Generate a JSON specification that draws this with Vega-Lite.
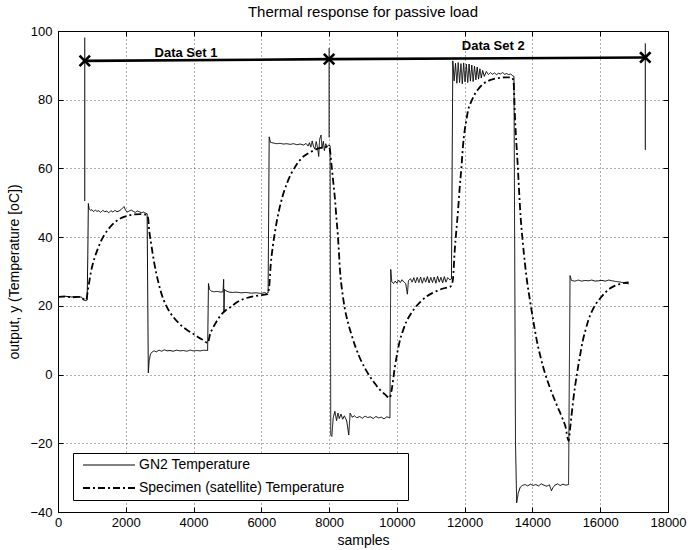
{
  "$schema": "https://vega.github.io/schema/vega-lite/v6.json",
  "width": 610,
  "height": 481,
  "autosize": "none",
  "padding": {"left": 58, "top": 31, "right": 32, "bottom": 38},
  "background": "white",
  "title": {"text": "Thermal response for passive load", "font": "Liberation Sans", "fontSize": 15, "fontWeight": "normal", "color": "black", "offset": 5, "anchor": "middle"},
  "datasets": {
    "gn2": [
      {"s": 0, "t": 22.7, "series": "GN2 Temperature"},
      {"s": 200, "t": 22.8, "series": "GN2 Temperature"},
      {"s": 400, "t": 22.6, "series": "GN2 Temperature"},
      {"s": 600, "t": 22.7, "series": "GN2 Temperature"},
      {"s": 700, "t": 22.5, "series": "GN2 Temperature"},
      {"s": 740, "t": 21.8, "series": "GN2 Temperature"},
      {"s": 800, "t": 21.5, "series": "GN2 Temperature"},
      {"s": 860, "t": 21.7, "series": "GN2 Temperature"},
      {"s": 880, "t": 35, "series": "GN2 Temperature"},
      {"s": 895, "t": 49.8, "series": "GN2 Temperature"},
      {"s": 920, "t": 48.2, "series": "GN2 Temperature"},
      {"s": 960, "t": 47.8, "series": "GN2 Temperature"},
      {"s": 1000, "t": 48.0, "series": "GN2 Temperature"},
      {"s": 1050, "t": 47.4, "series": "GN2 Temperature"},
      {"s": 1100, "t": 47.9, "series": "GN2 Temperature"},
      {"s": 1150, "t": 47.5, "series": "GN2 Temperature"},
      {"s": 1200, "t": 47.7, "series": "GN2 Temperature"},
      {"s": 1260, "t": 47.2, "series": "GN2 Temperature"},
      {"s": 1320, "t": 47.8, "series": "GN2 Temperature"},
      {"s": 1380, "t": 47.4, "series": "GN2 Temperature"},
      {"s": 1440, "t": 47.6, "series": "GN2 Temperature"},
      {"s": 1500, "t": 47.1, "series": "GN2 Temperature"},
      {"s": 1560, "t": 47.7, "series": "GN2 Temperature"},
      {"s": 1620, "t": 47.3, "series": "GN2 Temperature"},
      {"s": 1680, "t": 47.8, "series": "GN2 Temperature"},
      {"s": 1740, "t": 47.4, "series": "GN2 Temperature"},
      {"s": 1800, "t": 47.6, "series": "GN2 Temperature"},
      {"s": 1860, "t": 48.0, "series": "GN2 Temperature"},
      {"s": 1920, "t": 48.6, "series": "GN2 Temperature"},
      {"s": 1950, "t": 48.9, "series": "GN2 Temperature"},
      {"s": 1990, "t": 47.9, "series": "GN2 Temperature"},
      {"s": 2040, "t": 47.3, "series": "GN2 Temperature"},
      {"s": 2100, "t": 47.6, "series": "GN2 Temperature"},
      {"s": 2160, "t": 47.9, "series": "GN2 Temperature"},
      {"s": 2220, "t": 47.5, "series": "GN2 Temperature"},
      {"s": 2280, "t": 47.2, "series": "GN2 Temperature"},
      {"s": 2340, "t": 47.6, "series": "GN2 Temperature"},
      {"s": 2400, "t": 47.4, "series": "GN2 Temperature"},
      {"s": 2460, "t": 47.1, "series": "GN2 Temperature"},
      {"s": 2520, "t": 47.3, "series": "GN2 Temperature"},
      {"s": 2580, "t": 47.0, "series": "GN2 Temperature"},
      {"s": 2630, "t": 46.8, "series": "GN2 Temperature"},
      {"s": 2665, "t": 0.5, "series": "GN2 Temperature"},
      {"s": 2690, "t": 4.0, "series": "GN2 Temperature"},
      {"s": 2730, "t": 6.0, "series": "GN2 Temperature"},
      {"s": 2780, "t": 6.6, "series": "GN2 Temperature"},
      {"s": 2840, "t": 6.9, "series": "GN2 Temperature"},
      {"s": 2900, "t": 6.6, "series": "GN2 Temperature"},
      {"s": 2980, "t": 7.1, "series": "GN2 Temperature"},
      {"s": 3060, "t": 6.8, "series": "GN2 Temperature"},
      {"s": 3140, "t": 7.2, "series": "GN2 Temperature"},
      {"s": 3220, "t": 6.9, "series": "GN2 Temperature"},
      {"s": 3300, "t": 7.0, "series": "GN2 Temperature"},
      {"s": 3400, "t": 6.8, "series": "GN2 Temperature"},
      {"s": 3500, "t": 7.1, "series": "GN2 Temperature"},
      {"s": 3600, "t": 6.9, "series": "GN2 Temperature"},
      {"s": 3700, "t": 7.0, "series": "GN2 Temperature"},
      {"s": 3800, "t": 6.8, "series": "GN2 Temperature"},
      {"s": 3900, "t": 7.1, "series": "GN2 Temperature"},
      {"s": 4000, "t": 6.9, "series": "GN2 Temperature"},
      {"s": 4100, "t": 7.0, "series": "GN2 Temperature"},
      {"s": 4200, "t": 6.9, "series": "GN2 Temperature"},
      {"s": 4300, "t": 7.1, "series": "GN2 Temperature"},
      {"s": 4415, "t": 7.0, "series": "GN2 Temperature"},
      {"s": 4440, "t": 26.5, "series": "GN2 Temperature"},
      {"s": 4470, "t": 24.8, "series": "GN2 Temperature"},
      {"s": 4520, "t": 24.3, "series": "GN2 Temperature"},
      {"s": 4600, "t": 24.1, "series": "GN2 Temperature"},
      {"s": 4700, "t": 24.2, "series": "GN2 Temperature"},
      {"s": 4800, "t": 24.0, "series": "GN2 Temperature"},
      {"s": 4870, "t": 24.1, "series": "GN2 Temperature"},
      {"s": 4888, "t": 27.7, "series": "GN2 Temperature"},
      {"s": 4898, "t": 18.3, "series": "GN2 Temperature"},
      {"s": 4912, "t": 24.8, "series": "GN2 Temperature"},
      {"s": 4950, "t": 24.4, "series": "GN2 Temperature"},
      {"s": 5050, "t": 24.0, "series": "GN2 Temperature"},
      {"s": 5150, "t": 23.9, "series": "GN2 Temperature"},
      {"s": 5250, "t": 24.0, "series": "GN2 Temperature"},
      {"s": 5400, "t": 23.8, "series": "GN2 Temperature"},
      {"s": 5550, "t": 23.9, "series": "GN2 Temperature"},
      {"s": 5700, "t": 23.7, "series": "GN2 Temperature"},
      {"s": 5850, "t": 23.8, "series": "GN2 Temperature"},
      {"s": 6000, "t": 23.6, "series": "GN2 Temperature"},
      {"s": 6100, "t": 23.9, "series": "GN2 Temperature"},
      {"s": 6150, "t": 23.6, "series": "GN2 Temperature"},
      {"s": 6200, "t": 23.8, "series": "GN2 Temperature"},
      {"s": 6232, "t": 69.2, "series": "GN2 Temperature"},
      {"s": 6270, "t": 67.6, "series": "GN2 Temperature"},
      {"s": 6350, "t": 67.4, "series": "GN2 Temperature"},
      {"s": 6450, "t": 67.2, "series": "GN2 Temperature"},
      {"s": 6550, "t": 67.3, "series": "GN2 Temperature"},
      {"s": 6650, "t": 67.1, "series": "GN2 Temperature"},
      {"s": 6750, "t": 67.2, "series": "GN2 Temperature"},
      {"s": 6850, "t": 67.0, "series": "GN2 Temperature"},
      {"s": 6950, "t": 67.2, "series": "GN2 Temperature"},
      {"s": 7050, "t": 66.9, "series": "GN2 Temperature"},
      {"s": 7150, "t": 67.1, "series": "GN2 Temperature"},
      {"s": 7250, "t": 66.8, "series": "GN2 Temperature"},
      {"s": 7320, "t": 67.3, "series": "GN2 Temperature"},
      {"s": 7380, "t": 66.5, "series": "GN2 Temperature"},
      {"s": 7420, "t": 67.5, "series": "GN2 Temperature"},
      {"s": 7460, "t": 66.2, "series": "GN2 Temperature"},
      {"s": 7500, "t": 68.0, "series": "GN2 Temperature"},
      {"s": 7540, "t": 66.4, "series": "GN2 Temperature"},
      {"s": 7580, "t": 65.6, "series": "GN2 Temperature"},
      {"s": 7620, "t": 67.8, "series": "GN2 Temperature"},
      {"s": 7660, "t": 66.0, "series": "GN2 Temperature"},
      {"s": 7693, "t": 63.5, "series": "GN2 Temperature"},
      {"s": 7720, "t": 68.5, "series": "GN2 Temperature"},
      {"s": 7762, "t": 69.7, "series": "GN2 Temperature"},
      {"s": 7790, "t": 65.8, "series": "GN2 Temperature"},
      {"s": 7830, "t": 67.9, "series": "GN2 Temperature"},
      {"s": 7860, "t": 65.2, "series": "GN2 Temperature"},
      {"s": 7900, "t": 67.2, "series": "GN2 Temperature"},
      {"s": 7940, "t": 66.3, "series": "GN2 Temperature"},
      {"s": 7980, "t": 66.8, "series": "GN2 Temperature"},
      {"s": 8030, "t": 66.6, "series": "GN2 Temperature"},
      {"s": 8048, "t": -17.6, "series": "GN2 Temperature"},
      {"s": 8080, "t": -18.0, "series": "GN2 Temperature"},
      {"s": 8120, "t": -12.6, "series": "GN2 Temperature"},
      {"s": 8170, "t": -10.7, "series": "GN2 Temperature"},
      {"s": 8220, "t": -13.4, "series": "GN2 Temperature"},
      {"s": 8260, "t": -11.2, "series": "GN2 Temperature"},
      {"s": 8300, "t": -12.8, "series": "GN2 Temperature"},
      {"s": 8350, "t": -11.5, "series": "GN2 Temperature"},
      {"s": 8400, "t": -13.0, "series": "GN2 Temperature"},
      {"s": 8450, "t": -12.0, "series": "GN2 Temperature"},
      {"s": 8520, "t": -13.5, "series": "GN2 Temperature"},
      {"s": 8580, "t": -17.6, "series": "GN2 Temperature"},
      {"s": 8620, "t": -11.2, "series": "GN2 Temperature"},
      {"s": 8680, "t": -12.4, "series": "GN2 Temperature"},
      {"s": 8750, "t": -12.0, "series": "GN2 Temperature"},
      {"s": 8820, "t": -12.6, "series": "GN2 Temperature"},
      {"s": 8900, "t": -12.2, "series": "GN2 Temperature"},
      {"s": 8980, "t": -12.7, "series": "GN2 Temperature"},
      {"s": 9060, "t": -12.1, "series": "GN2 Temperature"},
      {"s": 9140, "t": -12.5, "series": "GN2 Temperature"},
      {"s": 9220, "t": -12.3, "series": "GN2 Temperature"},
      {"s": 9300, "t": -12.8, "series": "GN2 Temperature"},
      {"s": 9380, "t": -12.2, "series": "GN2 Temperature"},
      {"s": 9460, "t": -12.6, "series": "GN2 Temperature"},
      {"s": 9540, "t": -12.4, "series": "GN2 Temperature"},
      {"s": 9620, "t": -12.9, "series": "GN2 Temperature"},
      {"s": 9700, "t": -12.3, "series": "GN2 Temperature"},
      {"s": 9795, "t": -12.6, "series": "GN2 Temperature"},
      {"s": 9818, "t": 30.6, "series": "GN2 Temperature"},
      {"s": 9850, "t": 27.0, "series": "GN2 Temperature"},
      {"s": 9900, "t": 26.5, "series": "GN2 Temperature"},
      {"s": 9950, "t": 27.2, "series": "GN2 Temperature"},
      {"s": 10000, "t": 26.6, "series": "GN2 Temperature"},
      {"s": 10050, "t": 27.5, "series": "GN2 Temperature"},
      {"s": 10100, "t": 26.8, "series": "GN2 Temperature"},
      {"s": 10150, "t": 27.6, "series": "GN2 Temperature"},
      {"s": 10200, "t": 27.0, "series": "GN2 Temperature"},
      {"s": 10260, "t": 26.5, "series": "GN2 Temperature"},
      {"s": 10310, "t": 23.4, "series": "GN2 Temperature"},
      {"s": 10340, "t": 27.3, "series": "GN2 Temperature"},
      {"s": 10400, "t": 27.9, "series": "GN2 Temperature"},
      {"s": 10450, "t": 26.9, "series": "GN2 Temperature"},
      {"s": 10500, "t": 28.2, "series": "GN2 Temperature"},
      {"s": 10550, "t": 26.7, "series": "GN2 Temperature"},
      {"s": 10600, "t": 28.3, "series": "GN2 Temperature"},
      {"s": 10650, "t": 26.8, "series": "GN2 Temperature"},
      {"s": 10700, "t": 28.4, "series": "GN2 Temperature"},
      {"s": 10750, "t": 26.6, "series": "GN2 Temperature"},
      {"s": 10800, "t": 28.2, "series": "GN2 Temperature"},
      {"s": 10850, "t": 26.9, "series": "GN2 Temperature"},
      {"s": 10900, "t": 28.5, "series": "GN2 Temperature"},
      {"s": 10950, "t": 26.7, "series": "GN2 Temperature"},
      {"s": 11000, "t": 28.3, "series": "GN2 Temperature"},
      {"s": 11050, "t": 26.8, "series": "GN2 Temperature"},
      {"s": 11100, "t": 28.4, "series": "GN2 Temperature"},
      {"s": 11150, "t": 26.6, "series": "GN2 Temperature"},
      {"s": 11200, "t": 28.6, "series": "GN2 Temperature"},
      {"s": 11250, "t": 26.9, "series": "GN2 Temperature"},
      {"s": 11300, "t": 28.3, "series": "GN2 Temperature"},
      {"s": 11350, "t": 26.7, "series": "GN2 Temperature"},
      {"s": 11400, "t": 28.5, "series": "GN2 Temperature"},
      {"s": 11450, "t": 26.9, "series": "GN2 Temperature"},
      {"s": 11500, "t": 28.2, "series": "GN2 Temperature"},
      {"s": 11560, "t": 27.6, "series": "GN2 Temperature"},
      {"s": 11610, "t": 27.8, "series": "GN2 Temperature"},
      {"s": 11650, "t": 91.3, "series": "GN2 Temperature"},
      {"s": 11690, "t": 85.5, "series": "GN2 Temperature"},
      {"s": 11730, "t": 90.6, "series": "GN2 Temperature"},
      {"s": 11770, "t": 84.8, "series": "GN2 Temperature"},
      {"s": 11810, "t": 90.8, "series": "GN2 Temperature"},
      {"s": 11850, "t": 85.0, "series": "GN2 Temperature"},
      {"s": 11890, "t": 90.5, "series": "GN2 Temperature"},
      {"s": 11930, "t": 84.6, "series": "GN2 Temperature"},
      {"s": 11970, "t": 90.7, "series": "GN2 Temperature"},
      {"s": 12010, "t": 85.2, "series": "GN2 Temperature"},
      {"s": 12050, "t": 90.3, "series": "GN2 Temperature"},
      {"s": 12090, "t": 85.0, "series": "GN2 Temperature"},
      {"s": 12130, "t": 90.4, "series": "GN2 Temperature"},
      {"s": 12170, "t": 85.4, "series": "GN2 Temperature"},
      {"s": 12210, "t": 90.1, "series": "GN2 Temperature"},
      {"s": 12250, "t": 85.3, "series": "GN2 Temperature"},
      {"s": 12290, "t": 89.8, "series": "GN2 Temperature"},
      {"s": 12330, "t": 85.8, "series": "GN2 Temperature"},
      {"s": 12370, "t": 89.5, "series": "GN2 Temperature"},
      {"s": 12410, "t": 86.0, "series": "GN2 Temperature"},
      {"s": 12450, "t": 89.0, "series": "GN2 Temperature"},
      {"s": 12490, "t": 86.3, "series": "GN2 Temperature"},
      {"s": 12530, "t": 88.5, "series": "GN2 Temperature"},
      {"s": 12580, "t": 86.8, "series": "GN2 Temperature"},
      {"s": 12640, "t": 88.2, "series": "GN2 Temperature"},
      {"s": 12700, "t": 87.3, "series": "GN2 Temperature"},
      {"s": 12760, "t": 87.9, "series": "GN2 Temperature"},
      {"s": 12820, "t": 87.4, "series": "GN2 Temperature"},
      {"s": 12880, "t": 87.8, "series": "GN2 Temperature"},
      {"s": 12940, "t": 87.3, "series": "GN2 Temperature"},
      {"s": 13000, "t": 87.7, "series": "GN2 Temperature"},
      {"s": 13060, "t": 87.5, "series": "GN2 Temperature"},
      {"s": 13120, "t": 87.9, "series": "GN2 Temperature"},
      {"s": 13180, "t": 87.4, "series": "GN2 Temperature"},
      {"s": 13240, "t": 87.6, "series": "GN2 Temperature"},
      {"s": 13300, "t": 87.3, "series": "GN2 Temperature"},
      {"s": 13360, "t": 87.5, "series": "GN2 Temperature"},
      {"s": 13420, "t": 86.9, "series": "GN2 Temperature"},
      {"s": 13455, "t": 86.8, "series": "GN2 Temperature"},
      {"s": 13500, "t": -20, "series": "GN2 Temperature"},
      {"s": 13535, "t": -37.3, "series": "GN2 Temperature"},
      {"s": 13580, "t": -34.5, "series": "GN2 Temperature"},
      {"s": 13640, "t": -32.8, "series": "GN2 Temperature"},
      {"s": 13700, "t": -32.3, "series": "GN2 Temperature"},
      {"s": 13780, "t": -32.0, "series": "GN2 Temperature"},
      {"s": 13860, "t": -32.4, "series": "GN2 Temperature"},
      {"s": 13940, "t": -31.9, "series": "GN2 Temperature"},
      {"s": 14020, "t": -32.3, "series": "GN2 Temperature"},
      {"s": 14100, "t": -32.0, "series": "GN2 Temperature"},
      {"s": 14180, "t": -32.4, "series": "GN2 Temperature"},
      {"s": 14260, "t": -31.8, "series": "GN2 Temperature"},
      {"s": 14340, "t": -32.2, "series": "GN2 Temperature"},
      {"s": 14420, "t": -32.5, "series": "GN2 Temperature"},
      {"s": 14500, "t": -32.1, "series": "GN2 Temperature"},
      {"s": 14560, "t": -33.8, "series": "GN2 Temperature"},
      {"s": 14600, "t": -33.0, "series": "GN2 Temperature"},
      {"s": 14660, "t": -32.2, "series": "GN2 Temperature"},
      {"s": 14740, "t": -31.8, "series": "GN2 Temperature"},
      {"s": 14820, "t": -32.3, "series": "GN2 Temperature"},
      {"s": 14900, "t": -31.9, "series": "GN2 Temperature"},
      {"s": 14980, "t": -32.2, "series": "GN2 Temperature"},
      {"s": 15065, "t": -32.0, "series": "GN2 Temperature"},
      {"s": 15110, "t": 28.8, "series": "GN2 Temperature"},
      {"s": 15150, "t": 27.4, "series": "GN2 Temperature"},
      {"s": 15250, "t": 27.2, "series": "GN2 Temperature"},
      {"s": 15350, "t": 27.5, "series": "GN2 Temperature"},
      {"s": 15450, "t": 27.2, "series": "GN2 Temperature"},
      {"s": 15550, "t": 27.4, "series": "GN2 Temperature"},
      {"s": 15650, "t": 27.3, "series": "GN2 Temperature"},
      {"s": 15750, "t": 27.5, "series": "GN2 Temperature"},
      {"s": 15850, "t": 27.2, "series": "GN2 Temperature"},
      {"s": 15950, "t": 27.3, "series": "GN2 Temperature"},
      {"s": 16050, "t": 27.4, "series": "GN2 Temperature"},
      {"s": 16150, "t": 27.2, "series": "GN2 Temperature"},
      {"s": 16250, "t": 27.5, "series": "GN2 Temperature"},
      {"s": 16350, "t": 27.3, "series": "GN2 Temperature"},
      {"s": 16450, "t": 27.1, "series": "GN2 Temperature"},
      {"s": 16550, "t": 27.0, "series": "GN2 Temperature"},
      {"s": 16650, "t": 26.8, "series": "GN2 Temperature"},
      {"s": 16750, "t": 26.6, "series": "GN2 Temperature"},
      {"s": 16840, "t": 26.4, "series": "GN2 Temperature"}
    ],
    "spec": [
      {"s": 0, "t": 22.6, "series": "Specimen (satellite) Temperature"},
      {"s": 200, "t": 22.7, "series": "Specimen (satellite) Temperature"},
      {"s": 400, "t": 22.5, "series": "Specimen (satellite) Temperature"},
      {"s": 600, "t": 22.6, "series": "Specimen (satellite) Temperature"},
      {"s": 750, "t": 22.0, "series": "Specimen (satellite) Temperature"},
      {"s": 830, "t": 21.6, "series": "Specimen (satellite) Temperature"},
      {"s": 880, "t": 24.5, "series": "Specimen (satellite) Temperature"},
      {"s": 927, "t": 27.3, "series": "Specimen (satellite) Temperature"},
      {"s": 975, "t": 30.0, "series": "Specimen (satellite) Temperature"},
      {"s": 1024, "t": 32.1, "series": "Specimen (satellite) Temperature"},
      {"s": 1100, "t": 34.6, "series": "Specimen (satellite) Temperature"},
      {"s": 1171, "t": 36.5, "series": "Specimen (satellite) Temperature"},
      {"s": 1260, "t": 38.7, "series": "Specimen (satellite) Temperature"},
      {"s": 1366, "t": 40.6, "series": "Specimen (satellite) Temperature"},
      {"s": 1460, "t": 42.0, "series": "Specimen (satellite) Temperature"},
      {"s": 1561, "t": 43.2, "series": "Specimen (satellite) Temperature"},
      {"s": 1700, "t": 44.5, "series": "Specimen (satellite) Temperature"},
      {"s": 1854, "t": 45.5, "series": "Specimen (satellite) Temperature"},
      {"s": 2050, "t": 46.2, "series": "Specimen (satellite) Temperature"},
      {"s": 2244, "t": 46.6, "series": "Specimen (satellite) Temperature"},
      {"s": 2450, "t": 46.7, "series": "Specimen (satellite) Temperature"},
      {"s": 2620, "t": 46.5, "series": "Specimen (satellite) Temperature"},
      {"s": 2660, "t": 45.5, "series": "Specimen (satellite) Temperature"},
      {"s": 2683, "t": 42.8, "series": "Specimen (satellite) Temperature"},
      {"s": 2750, "t": 38.0, "series": "Specimen (satellite) Temperature"},
      {"s": 2829, "t": 33.1, "series": "Specimen (satellite) Temperature"},
      {"s": 2900, "t": 29.5, "series": "Specimen (satellite) Temperature"},
      {"s": 2976, "t": 26.3, "series": "Specimen (satellite) Temperature"},
      {"s": 3070, "t": 23.0, "series": "Specimen (satellite) Temperature"},
      {"s": 3171, "t": 20.5, "series": "Specimen (satellite) Temperature"},
      {"s": 3290, "t": 18.3, "series": "Specimen (satellite) Temperature"},
      {"s": 3415, "t": 16.6, "series": "Specimen (satellite) Temperature"},
      {"s": 3560, "t": 15.0, "series": "Specimen (satellite) Temperature"},
      {"s": 3707, "t": 13.7, "series": "Specimen (satellite) Temperature"},
      {"s": 3850, "t": 12.7, "series": "Specimen (satellite) Temperature"},
      {"s": 4000, "t": 11.8, "series": "Specimen (satellite) Temperature"},
      {"s": 4150, "t": 10.8, "series": "Specimen (satellite) Temperature"},
      {"s": 4293, "t": 10.0, "series": "Specimen (satellite) Temperature"},
      {"s": 4420, "t": 9.2, "series": "Specimen (satellite) Temperature"},
      {"s": 4488, "t": 11.8, "series": "Specimen (satellite) Temperature"},
      {"s": 4560, "t": 13.4, "series": "Specimen (satellite) Temperature"},
      {"s": 4634, "t": 14.7, "series": "Specimen (satellite) Temperature"},
      {"s": 4740, "t": 16.4, "series": "Specimen (satellite) Temperature"},
      {"s": 4849, "t": 17.8, "series": "Specimen (satellite) Temperature"},
      {"s": 4960, "t": 18.8, "series": "Specimen (satellite) Temperature"},
      {"s": 5073, "t": 19.5, "series": "Specimen (satellite) Temperature"},
      {"s": 5268, "t": 21.0, "series": "Specimen (satellite) Temperature"},
      {"s": 5450, "t": 21.9, "series": "Specimen (satellite) Temperature"},
      {"s": 5634, "t": 22.5, "series": "Specimen (satellite) Temperature"},
      {"s": 5900, "t": 23.0, "series": "Specimen (satellite) Temperature"},
      {"s": 6178, "t": 23.4, "series": "Specimen (satellite) Temperature"},
      {"s": 6228, "t": 25.2, "series": "Specimen (satellite) Temperature"},
      {"s": 6277, "t": 32.0, "series": "Specimen (satellite) Temperature"},
      {"s": 6346, "t": 37.8, "series": "Specimen (satellite) Temperature"},
      {"s": 6410, "t": 42.0, "series": "Specimen (satellite) Temperature"},
      {"s": 6475, "t": 45.6, "series": "Specimen (satellite) Temperature"},
      {"s": 6570, "t": 49.8, "series": "Specimen (satellite) Temperature"},
      {"s": 6673, "t": 53.4, "series": "Specimen (satellite) Temperature"},
      {"s": 6770, "t": 56.0, "series": "Specimen (satellite) Temperature"},
      {"s": 6871, "t": 58.3, "series": "Specimen (satellite) Temperature"},
      {"s": 7000, "t": 60.5, "series": "Specimen (satellite) Temperature"},
      {"s": 7119, "t": 62.2, "series": "Specimen (satellite) Temperature"},
      {"s": 7260, "t": 63.6, "series": "Specimen (satellite) Temperature"},
      {"s": 7416, "t": 64.6, "series": "Specimen (satellite) Temperature"},
      {"s": 7560, "t": 65.3, "series": "Specimen (satellite) Temperature"},
      {"s": 7713, "t": 65.9, "series": "Specimen (satellite) Temperature"},
      {"s": 7850, "t": 66.1, "series": "Specimen (satellite) Temperature"},
      {"s": 7990, "t": 66.3, "series": "Specimen (satellite) Temperature"},
      {"s": 8030, "t": 65.0, "series": "Specimen (satellite) Temperature"},
      {"s": 8059, "t": 62.2, "series": "Specimen (satellite) Temperature"},
      {"s": 8109, "t": 57.3, "series": "Specimen (satellite) Temperature"},
      {"s": 8178, "t": 50.5, "series": "Specimen (satellite) Temperature"},
      {"s": 8216, "t": 45.5, "series": "Specimen (satellite) Temperature"},
      {"s": 8257, "t": 40.7, "series": "Specimen (satellite) Temperature"},
      {"s": 8287, "t": 36.0, "series": "Specimen (satellite) Temperature"},
      {"s": 8320, "t": 30.5, "series": "Specimen (satellite) Temperature"},
      {"s": 8390, "t": 24.0, "series": "Specimen (satellite) Temperature"},
      {"s": 8462, "t": 19.3, "series": "Specimen (satellite) Temperature"},
      {"s": 8560, "t": 15.0, "series": "Specimen (satellite) Temperature"},
      {"s": 8658, "t": 11.7, "series": "Specimen (satellite) Temperature"},
      {"s": 8780, "t": 8.0, "series": "Specimen (satellite) Temperature"},
      {"s": 8904, "t": 4.9, "series": "Specimen (satellite) Temperature"},
      {"s": 9050, "t": 2.0, "series": "Specimen (satellite) Temperature"},
      {"s": 9199, "t": -0.5, "series": "Specimen (satellite) Temperature"},
      {"s": 9350, "t": -2.6, "series": "Specimen (satellite) Temperature"},
      {"s": 9494, "t": -4.4, "series": "Specimen (satellite) Temperature"},
      {"s": 9640, "t": -5.7, "series": "Specimen (satellite) Temperature"},
      {"s": 9789, "t": -6.8, "series": "Specimen (satellite) Temperature"},
      {"s": 9838, "t": -4.9, "series": "Specimen (satellite) Temperature"},
      {"s": 9936, "t": 1.9, "series": "Specimen (satellite) Temperature"},
      {"s": 10010, "t": 6.2, "series": "Specimen (satellite) Temperature"},
      {"s": 10083, "t": 9.7, "series": "Specimen (satellite) Temperature"},
      {"s": 10180, "t": 12.8, "series": "Specimen (satellite) Temperature"},
      {"s": 10280, "t": 15.4, "series": "Specimen (satellite) Temperature"},
      {"s": 10400, "t": 17.5, "series": "Specimen (satellite) Temperature"},
      {"s": 10526, "t": 19.3, "series": "Specimen (satellite) Temperature"},
      {"s": 10700, "t": 21.2, "series": "Specimen (satellite) Temperature"},
      {"s": 10870, "t": 22.7, "series": "Specimen (satellite) Temperature"},
      {"s": 11060, "t": 23.8, "series": "Specimen (satellite) Temperature"},
      {"s": 11263, "t": 24.7, "series": "Specimen (satellite) Temperature"},
      {"s": 11420, "t": 25.2, "series": "Specimen (satellite) Temperature"},
      {"s": 11577, "t": 25.6, "series": "Specimen (satellite) Temperature"},
      {"s": 11630, "t": 26.5, "series": "Specimen (satellite) Temperature"},
      {"s": 11656, "t": 28.0, "series": "Specimen (satellite) Temperature"},
      {"s": 11705, "t": 35.9, "series": "Specimen (satellite) Temperature"},
      {"s": 11755, "t": 42.0, "series": "Specimen (satellite) Temperature"},
      {"s": 11803, "t": 47.6, "series": "Specimen (satellite) Temperature"},
      {"s": 11850, "t": 54.0, "series": "Specimen (satellite) Temperature"},
      {"s": 11902, "t": 60.0, "series": "Specimen (satellite) Temperature"},
      {"s": 11950, "t": 66.5, "series": "Specimen (satellite) Temperature"},
      {"s": 12000, "t": 71.0, "series": "Specimen (satellite) Temperature"},
      {"s": 12049, "t": 74.0, "series": "Specimen (satellite) Temperature"},
      {"s": 12099, "t": 76.8, "series": "Specimen (satellite) Temperature"},
      {"s": 12200, "t": 79.6, "series": "Specimen (satellite) Temperature"},
      {"s": 12297, "t": 81.6, "series": "Specimen (satellite) Temperature"},
      {"s": 12420, "t": 83.3, "series": "Specimen (satellite) Temperature"},
      {"s": 12545, "t": 84.6, "series": "Specimen (satellite) Temperature"},
      {"s": 12700, "t": 85.5, "series": "Specimen (satellite) Temperature"},
      {"s": 12842, "t": 86.0, "series": "Specimen (satellite) Temperature"},
      {"s": 13000, "t": 86.3, "series": "Specimen (satellite) Temperature"},
      {"s": 13200, "t": 86.5, "series": "Specimen (satellite) Temperature"},
      {"s": 13386, "t": 86.5, "series": "Specimen (satellite) Temperature"},
      {"s": 13440, "t": 85.5, "series": "Specimen (satellite) Temperature"},
      {"s": 13485, "t": 74.8, "series": "Specimen (satellite) Temperature"},
      {"s": 13564, "t": 61.2, "series": "Specimen (satellite) Temperature"},
      {"s": 13653, "t": 45.6, "series": "Specimen (satellite) Temperature"},
      {"s": 13720, "t": 38.0, "series": "Specimen (satellite) Temperature"},
      {"s": 13782, "t": 32.0, "series": "Specimen (satellite) Temperature"},
      {"s": 13850, "t": 26.5, "series": "Specimen (satellite) Temperature"},
      {"s": 13931, "t": 21.4, "series": "Specimen (satellite) Temperature"},
      {"s": 14030, "t": 15.3, "series": "Specimen (satellite) Temperature"},
      {"s": 14129, "t": 9.9, "series": "Specimen (satellite) Temperature"},
      {"s": 14250, "t": 4.7, "series": "Specimen (satellite) Temperature"},
      {"s": 14376, "t": 0.2, "series": "Specimen (satellite) Temperature"},
      {"s": 14500, "t": -3.4, "series": "Specimen (satellite) Temperature"},
      {"s": 14624, "t": -6.6, "series": "Specimen (satellite) Temperature"},
      {"s": 14750, "t": -9.6, "series": "Specimen (satellite) Temperature"},
      {"s": 14871, "t": -12.4, "series": "Specimen (satellite) Temperature"},
      {"s": 14970, "t": -15.0, "series": "Specimen (satellite) Temperature"},
      {"s": 15069, "t": -19.3, "series": "Specimen (satellite) Temperature"},
      {"s": 15113, "t": -15.5, "series": "Specimen (satellite) Temperature"},
      {"s": 15212, "t": -6.8, "series": "Specimen (satellite) Temperature"},
      {"s": 15310, "t": 0.0, "series": "Specimen (satellite) Temperature"},
      {"s": 15409, "t": 5.8, "series": "Specimen (satellite) Temperature"},
      {"s": 15480, "t": 9.6, "series": "Specimen (satellite) Temperature"},
      {"s": 15557, "t": 12.6, "series": "Specimen (satellite) Temperature"},
      {"s": 15650, "t": 15.8, "series": "Specimen (satellite) Temperature"},
      {"s": 15754, "t": 18.4, "series": "Specimen (satellite) Temperature"},
      {"s": 15870, "t": 20.5, "series": "Specimen (satellite) Temperature"},
      {"s": 16000, "t": 22.2, "series": "Specimen (satellite) Temperature"},
      {"s": 16150, "t": 23.9, "series": "Specimen (satellite) Temperature"},
      {"s": 16296, "t": 25.1, "series": "Specimen (satellite) Temperature"},
      {"s": 16440, "t": 25.9, "series": "Specimen (satellite) Temperature"},
      {"s": 16591, "t": 26.4, "series": "Specimen (satellite) Temperature"},
      {"s": 16710, "t": 26.7, "series": "Specimen (satellite) Temperature"},
      {"s": 16837, "t": 26.8, "series": "Specimen (satellite) Temperature"}
    ],
    "bar": [
      {"s": 790, "t": 91.3},
      {"s": 8000, "t": 91.8},
      {"s": 17330, "t": 92.3}
    ],
    "rules": [
      {"s": 790, "lo": 50.5, "hi": 98.1},
      {"s": 8000, "lo": 69.0, "hi": 95.0},
      {"s": 17330, "lo": 65.4, "hi": 96.4}
    ],
    "labels": [
      {"s": 3776, "t": 93.7, "label": "Data Set 1"},
      {"s": 12842, "t": 95.7, "label": "Data Set 2"}
    ]
  },
  "layer": [
    {
      "data": {"name": "gn2"},
      "mark": {"type": "line", "color": "black", "strokeWidth": 1, "interpolate": "linear"},
      "encoding": {
        "x": {"field": "s", "type": "quantitative", "scale": {"domain": [0, 18000], "nice": false, "zero": false},
              "axis": {"orient": "bottom", "values": [0, 2000, 4000, 6000, 8000, 10000, 12000, 14000, 16000, 18000], "format": "d", "title": "samples", "grid": true, "tickSize": -5, "labelPadding": 9, "titleY": 21, "titleBaseline": "top", "labelFlush": false, "labelOverlap": false}},
        "y": {"field": "t", "type": "quantitative", "scale": {"domain": [-40, 100], "nice": false, "zero": false},
              "axis": {"orient": "left", "values": [-40, -20, 0, 20, 40, 60, 80, 100], "format": "d", "title": "output, y (Temperature [oC])", "grid": true, "tickSize": -5, "labelPadding": 11, "titleX": -44, "titleY": 240.5, "titleAngle": -90, "titleAlign": "center", "titleBaseline": "middle", "labelFlush": false, "labelOverlap": false}},
        "strokeDash": {"field": "series", "type": "nominal",
          "scale": {"domain": ["GN2 Temperature", "Specimen (satellite) Temperature"], "range": [[1, 0], [7, 3, 2, 3]]},
          "legend": {"title": null, "orient": "none", "legendX": 15, "legendY": 422, "direction": "vertical",
            "symbolType": "M-5,0H5", "symbolSize": 108, "rowPadding": 9, "padding": 5,
            "symbolOffset": 24, "labelOffset": 23, "labelLimit": 500, "symbolStrokeColor": "black", "symbolStrokeWidth": 1.5,
            "fillColor": "white", "strokeColor": "black", "cornerRadius": 0,
            "labelFont": "Liberation Sans", "labelFontSize": 14, "labelColor": "black",
            "labelExpr": "datum.label + '\u00a0\u00a0\u00a0\u00a0\u00a0\u00a0\u00a0\u00a0\u00a0\u00a0\u00a0\u00a0\u00a0\u00a0\u00a0\u200b'",
            "encode": {"symbols": {"update": {"strokeWidth": {"signal": "datum.value === 'GN2 Temperature' ? 1 : 2"}}}}}}
      }
    },
    {
      "data": {"name": "spec"},
      "mark": {"type": "line", "color": "black", "strokeWidth": 1.8, "interpolate": "monotone"},
      "encoding": {
        "x": {"field": "s", "type": "quantitative", "axis": {"orient": "top", "labels": false, "grid": false, "title": null, "tickSize": -5, "values": [0, 2000, 4000, 6000, 8000, 10000, 12000, 14000, 16000, 18000]}},
        "y": {"field": "t", "type": "quantitative", "axis": {"orient": "right", "labels": false, "grid": false, "title": null, "tickSize": -5, "values": [-40, -20, 0, 20, 40, 60, 80, 100]}},
        "strokeDash": {"field": "series", "type": "nominal"}
      }
    },
    {
      "data": {"name": "rules"},
      "mark": {"type": "rule", "color": "black", "strokeWidth": 1},
      "encoding": {
        "x": {"field": "s", "type": "quantitative", "axis": null},
        "y": {"field": "lo", "type": "quantitative", "axis": null},
        "y2": {"field": "hi"}
      }
    },
    {
      "data": {"name": "bar"},
      "mark": {"type": "line", "color": "black", "strokeWidth": 2.6},
      "encoding": {
        "x": {"field": "s", "type": "quantitative", "axis": null},
        "y": {"field": "t", "type": "quantitative", "axis": null}
      }
    },
    {
      "data": {"name": "bar"},
      "mark": {"type": "point", "shape": "M-1,-1L1,1M-1,1L1,-1", "filled": false, "color": "black", "strokeWidth": 2.6, "size": 110, "opacity": 1},
      "encoding": {
        "x": {"field": "s", "type": "quantitative", "axis": null},
        "y": {"field": "t", "type": "quantitative", "axis": null}
      }
    },
    {
      "data": {"name": "labels"},
      "mark": {"type": "text", "font": "Liberation Sans", "fontSize": 13, "fontWeight": "bold", "color": "black", "align": "center", "baseline": "middle"},
      "encoding": {
        "x": {"field": "s", "type": "quantitative", "axis": null},
        "y": {"field": "t", "type": "quantitative", "axis": null},
        "text": {"field": "label"}
      }
    }
  ],
  "config": {
    "view": {"stroke": "black", "strokeWidth": 1},
    "axis": {
      "labelFont": "Liberation Sans", "labelFontSize": 13, "labelColor": "black",
      "titleFont": "Liberation Sans", "titleFontSize": 14, "titleFontWeight": "normal", "titleColor": "black",
      "domainColor": "black", "domainWidth": 1, "tickColor": "black", "tickWidth": 1,
      "gridColor": "#333333", "gridDash": [1, 3], "gridWidth": 0.8, "gridOpacity": 1
    }
  }
}
